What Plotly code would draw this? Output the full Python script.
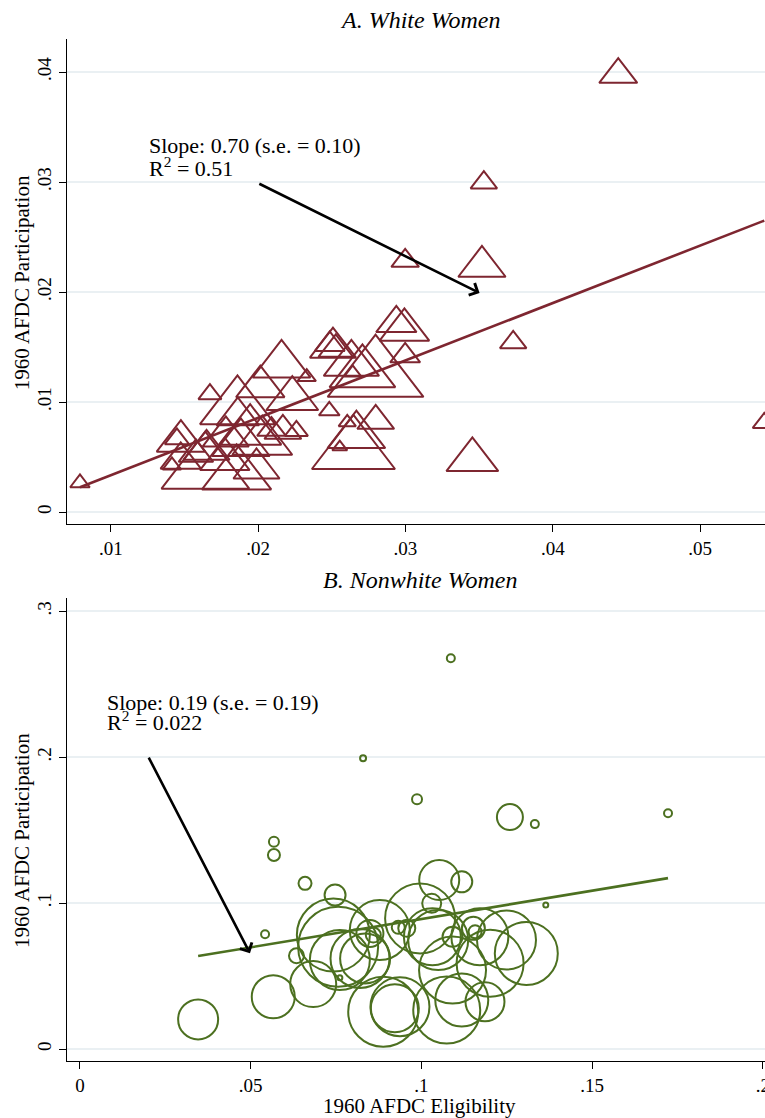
import plotly.graph_objects as go

# ---------------- Panel A: White Women ----------------
white_elig = [0.04444, 0.03532, 0.03519, 0.02998, 0.03731, 0.03454, 0.05435, 0.00791,
              0.02938, 0.02993, 0.02998, 0.02797, 0.02708, 0.02508, 0.02483, 0.02647,
              0.02798, 0.02605, 0.02554, 0.02667, 0.02486, 0.02527, 0.02633, 0.02642,
              0.02330, 0.02260, 0.02159, 0.02015, 0.01862, 0.02232, 0.01946, 0.02028,
              0.01673, 0.01854, 0.01642, 0.01989, 0.01774, 0.01475, 0.01476, 0.01449,
              0.01415, 0.01860, 0.01883, 0.01781, 0.01650, 0.01578, 0.02091, 0.02168]
white_part = [0.03977, 0.02994, 0.02232, 0.02284, 0.01542, 0.00475, 0.00810, 0.00264,
              0.01716, 0.01655, 0.01420, 0.01236, 0.01265, 0.01494, 0.00920, 0.00555,
              0.00829, 0.00815, 0.00591, 0.00695, 0.01523, 0.01479, 0.01347, 0.01266,
              0.01227, 0.00737, 0.01337, 0.01140, 0.00873, 0.01030, 0.00735, 0.00639,
              0.01071, 0.00342, 0.00385, 0.00396, 0.00479, 0.00474, 0.00644, 0.00665,
              0.00424, 0.00946, 0.00623, 0.00687, 0.00566, 0.00525, 0.00750, 0.00738]
white_weight = [33, 23, 41, 24, 23, 45, 20, 17,
                35, 43, 26, 83, 57, 40, 18, 72,
                32, 15, 13, 50, 26, 30, 48, 15,
                16, 20, 50, 42, 37, 45, 54, 52,
                20, 60, 76, 40, 43, 35, 42, 21,
                16, 65, 50, 40, 40, 30, 25, 32]
white_fit_intercept = -0.00188
white_fit_slope = 0.522
white_label_1 = "Slope: 0.70 (s.e. = 0.10)"
white_label_2 = "R<sup>2</sup> = 0.51"

# ---------------- Panel B: Nonwhite Women ----------------
nonwhite_elig = [0.0346, 0.0566, 0.0683, 0.0634, 0.0542, 0.0568, 0.0568, 0.0659, 0.0747, 0.0761,
                 0.0742, 0.0756, 0.0761, 0.0835, 0.0878, 0.0849, 0.0859, 0.0932, 0.0957, 0.0996,
                 0.1052, 0.1118, 0.1030, 0.1032, 0.1091, 0.0888, 0.0937, 0.1074, 0.1118, 0.1186,
                 0.1171, 0.1152, 0.1157, 0.1091, 0.1201, 0.1249, 0.1307, 0.1364, 0.1086, 0.0829,
                 0.0987, 0.1259, 0.1332, 0.1722, 0.1049, 0.0820, 0.0922]
nonwhite_part = [0.0203, 0.0358, 0.0445, 0.0639, 0.0786, 0.1329, 0.1420, 0.1135, 0.1055, 0.0489,
                 0.0781, 0.0701, 0.0610, 0.0621, 0.0815, 0.0792, 0.0781, 0.0834, 0.0827, 0.0895,
                 0.1158, 0.1146, 0.0998, 0.0769, 0.0541, 0.0255, 0.0290, 0.0267, 0.0336, 0.0324,
                 0.0769, 0.0827, 0.0804, 0.0769, 0.0587, 0.0747, 0.0655, 0.0986, 0.2678, 0.1993,
                 0.1712, 0.1589, 0.1541, 0.1616, 0.0747, 0.0621, 0.0279]
nonwhite_weight = [40, 43, 46, 15, 8, 12, 10, 13, 21, 5,
                   73, 80, 60, 50, 60, 27, 15, 13, 17, 70,
                   40, 21, 19, 57, 67, 70, 59, 67, 53, 39,
                   57, 23, 13, 20, 67, 59, 63, 5, 8, 6,
                   10, 26, 8, 8, 60, 59, 48]
nonwhite_fit_intercept = 0.05028
nonwhite_fit_slope = 0.388
nonwhite_label_1 = "Slope: 0.19 (s.e. = 0.19)"
nonwhite_label_2 = "R<sup>2</sup> = 0.022"

# axis ticks
a_xticks = [0.01, 0.02, 0.03, 0.04, 0.05]
a_xlabels = [".01", ".02", ".03", ".04", ".05"]
a_yticks = [0, 0.01, 0.02, 0.03, 0.04]
a_ylabels = ["0", ".01", ".02", ".03", ".04"]
b_xticks = [0, 0.05, 0.1, 0.15, 0.2]
b_xlabels = ["0", ".05", ".1", ".15", ".2"]
b_yticks = [0, 0.1, 0.2, 0.3]
b_ylabels = ["0", ".1", ".2", ".3"]

RED = "#7E2630"
GREEN = "#4C7020"
GRID = "#EAF0F3"
FONT = "Liberation Serif"

fig = go.Figure()

fig.add_trace(go.Scatter(
    x=white_elig, y=white_part, mode="markers", xaxis="x", yaxis="y",
    marker=dict(symbol="triangle-up-open", size=[w * 1.0 for w in white_weight],
                color=RED, opacity=1, line=dict(color=RED, width=2)),
    showlegend=False, hoverinfo="skip"))
ax0, ax1 = min(white_elig), max(white_elig)
fig.add_trace(go.Scatter(
    x=[ax0, ax1],
    y=[white_fit_intercept + white_fit_slope * ax0, white_fit_intercept + white_fit_slope * ax1],
    mode="lines", xaxis="x", yaxis="y", line=dict(color=RED, width=2.6),
    showlegend=False, hoverinfo="skip"))

fig.add_trace(go.Scatter(
    x=nonwhite_elig, y=nonwhite_part, mode="markers", xaxis="x2", yaxis="y2",
    marker=dict(symbol="circle-open", size=nonwhite_weight,
                color=GREEN, opacity=1, line=dict(color=GREEN, width=2)),
    showlegend=False, hoverinfo="skip"))
bx0, bx1 = min(nonwhite_elig), max(nonwhite_elig)
fig.add_trace(go.Scatter(
    x=[bx0, bx1],
    y=[nonwhite_fit_intercept + nonwhite_fit_slope * bx0,
       nonwhite_fit_intercept + nonwhite_fit_slope * bx1],
    mode="lines", xaxis="x2", yaxis="y2", line=dict(color=GREEN, width=2.6),
    showlegend=False, hoverinfo="skip"))

axis_common = dict(showline=True, linecolor="black", linewidth=1, ticks="outside",
                   ticklen=7, tickcolor="black", tickwidth=1, zeroline=False,
                   automargin=False, ticklabeloverflow="allow",
                   tickfont=dict(family=FONT, size=19, color="black"))

fig.update_layout(
    width=765, height=1118,
    margin=dict(l=67, r=0, t=39, b=57, autoexpand=False),
    plot_bgcolor="white", paper_bgcolor="white",
    font=dict(family=FONT, color="black"),
    xaxis=dict(domain=[0, 1], anchor="y", range=[0.00703, 0.0544],
               tickvals=a_xticks, ticktext=a_xlabels, showgrid=False, **axis_common),
    yaxis=dict(domain=[0.5254, 1], anchor="x", range=[-0.00109, 0.043],
               tickvals=a_yticks, ticktext=a_ylabels, tickangle=-90,
               showgrid=True, gridcolor=GRID, gridwidth=1.5, **axis_common),
    xaxis2=dict(domain=[0, 1], anchor="y2", range=[-0.0038, 0.2006],
                tickvals=b_xticks, ticktext=b_xlabels, showgrid=False, **axis_common),
    yaxis2=dict(domain=[0, 0.453], anchor="x2", range=[-0.0082, 0.309],
                tickvals=b_yticks, ticktext=b_ylabels, tickangle=-90,
                showgrid=True, gridcolor=GRID, gridwidth=1.5, **axis_common),
)

ann_font = dict(family=FONT, size=22, color="black")
annotations = [
    # panel titles
    dict(text="<i>A. White Women</i>", xref="paper", yref="paper", x=0.5057, y=1.0186,
         xanchor="center", yanchor="middle", showarrow=False, font=dict(family=FONT, size=24)),
    dict(text="<i>B. Nonwhite Women</i>", xref="paper", yref="paper", x=0.5057, y=0.4706,
         xanchor="center", yanchor="middle", showarrow=False, font=dict(family=FONT, size=24)),
    # y titles
    dict(text="1960 AFDC Participation", xref="paper", yref="paper", x=-0.0645, y=0.762,
         xanchor="center", yanchor="middle", textangle=-90, showarrow=False,
         font=dict(family=FONT, size=21)),
    dict(text="1960 AFDC Participation", xref="paper", yref="paper", x=-0.0645, y=0.2162,
         xanchor="center", yanchor="middle", textangle=-90, showarrow=False,
         font=dict(family=FONT, size=21)),
    # x title
    dict(text="1960 AFDC Eligibility", xref="paper", yref="paper", x=0.5057, y=-0.044,
         xanchor="center", yanchor="middle", showarrow=False, font=dict(family=FONT, size=21)),
    # regression labels
    dict(text=white_label_1, xref="x", yref="y", x=0.01245, y=0.03200, xanchor="left",
         yanchor="bottom", showarrow=False, font=ann_font),
    dict(text=white_label_2, xref="x", yref="y", x=0.01245, y=0.02991, xanchor="left",
         yanchor="bottom", showarrow=False, font=ann_font),
    dict(text=nonwhite_label_1, xref="x2", yref="y2", x=0.00732, y=0.2274, xanchor="left",
         yanchor="bottom", showarrow=False, font=ann_font),
    dict(text=nonwhite_label_2, xref="x2", yref="y2", x=0.00732, y=0.2137, xanchor="left",
         yanchor="bottom", showarrow=False, font=ann_font),
    # arrows
    dict(text="", xref="x", yref="y", x=0.03503, y=0.01991, axref="x", ayref="y",
         ax=0.01998, ay=0.02991, showarrow=True, arrowhead=4, arrowsize=1,
         arrowwidth=2.6, arrowcolor="black", standoff=0),
    dict(text="", xref="x2", yref="y2", x=0.04978, y=0.06555, axref="x2", ayref="y2",
         ax=0.01991, ay=0.2007, showarrow=True, arrowhead=4, arrowsize=1,
         arrowwidth=2.6, arrowcolor="black", standoff=0),
]
fig.update_layout(annotations=annotations)

fig.write_html(
    "out.html",
    config={"displayModeBar": False},
    post_script="document.body.style.margin='0';document.body.style.overflow='hidden';",
)
